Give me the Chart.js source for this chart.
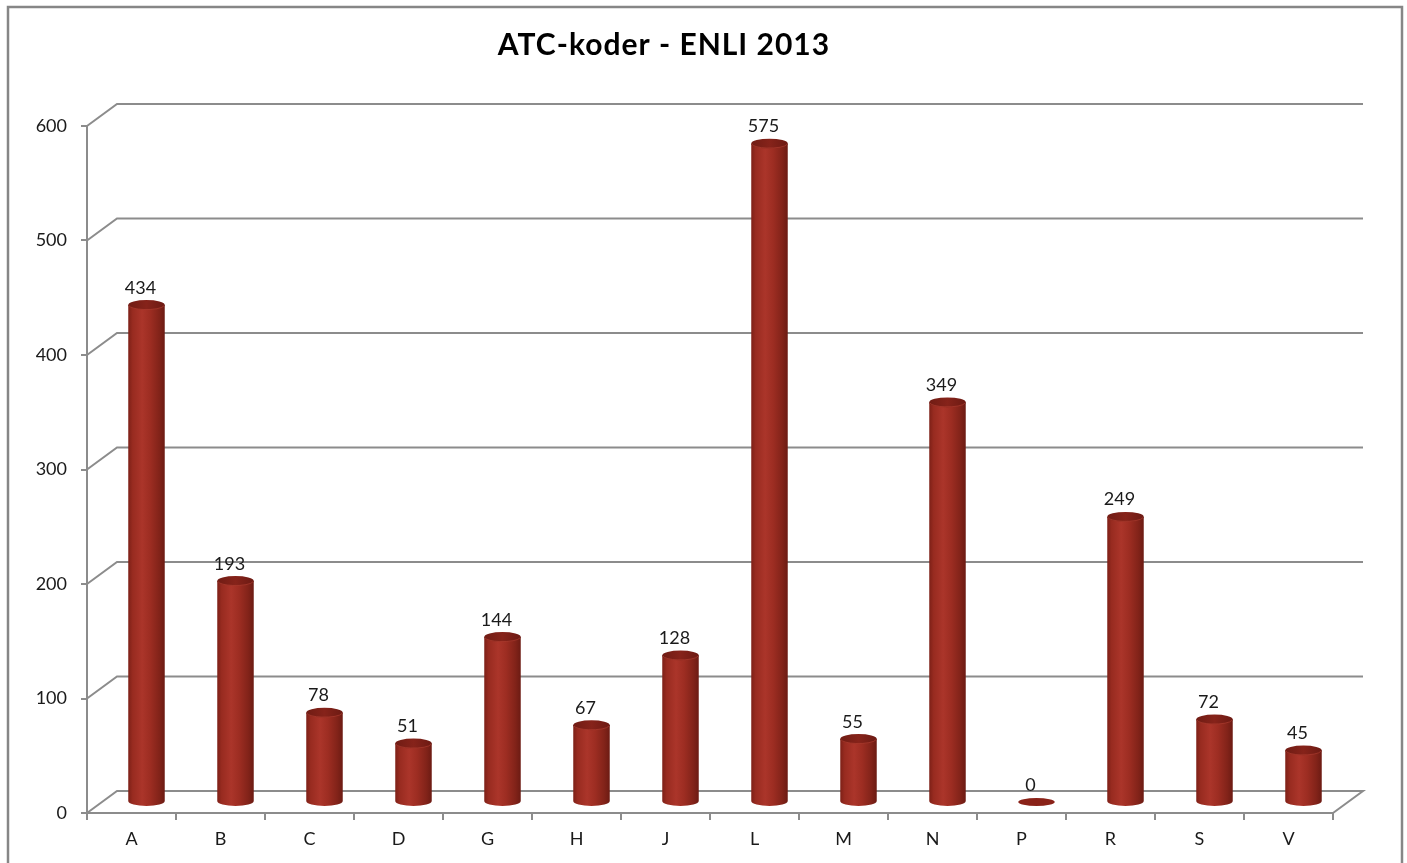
<!DOCTYPE html>
<html>
<head>
<meta charset="utf-8">
<script src="https://cdn.jsdelivr.net/npm/chart.js@4/dist/chart.umd.min.js"></script>
<style>
  html, body { margin: 0; padding: 0; background: #ffffff; }
  #wrap { width: 1407px; height: 863px; }
</style>
</head>
<body>
<div id="wrap"><canvas id="chart" width="1407" height="863"></canvas></div>
<script>
// ATC codes, number of entries per main group
const categories = ['A', 'B', 'C', 'D', 'G', 'H', 'J', 'L', 'M', 'N', 'P', 'R', 'S', 'V'];
const counts = [434, 193, 78, 51, 144, 67, 128, 575, 55, 349, 0, 249, 72, 45];
const axisMin = 0;
const axisMax = 600;
const axisStep = 100;
const titleText = 'ATC-koder - ENLI 2013';

// 3D look: the back wall sits behind the front plane, cylinders halfway in
const DEPTH_X = 30, DEPTH_Y = -22;
const BAR_DX = 15, BAR_DY = -11;
const CAP_RY = 5;
const FRAME = '#8c8c8c';
const TEXT = '#1a1a1a';
const FONT = 'Lato, Carlito, "Open Sans", sans-serif';

// outer frame of the chart object and the heading
const outerFrame = {
  id: 'outerFrame',
  beforeDraw(chart) {
    const c = chart.ctx;
    c.save();
    c.fillStyle = '#ffffff';
    c.fillRect(0, 0, chart.width, chart.height);
    c.strokeStyle = '#868686';
    c.lineWidth = 2.5;
    c.strokeRect(8, 7, 1394, 900);
    c.fillStyle = '#000000';
    c.font = 'bold 30px ' + FONT;
    if ('letterSpacing' in c) c.letterSpacing = '1px';
    c.textAlign = 'center';
    c.textBaseline = 'alphabetic';
    c.fillText(titleText, 664, 55);
    c.restore();
  }
};

// back wall grid lines, the side diagonals and the floor
const wall3d = {
  id: 'wall3d',
  beforeDatasetsDraw(chart) {
    const c = chart.ctx;
    const xs = chart.scales.x, ys = chart.scales.y;
    const left = xs.left, right = xs.right;
    c.save();
    c.strokeStyle = FRAME;
    c.lineWidth = 2;
    c.lineCap = 'butt';
    for (let v = axisMin; v <= axisMax; v += axisStep) {
      const y = ys.getPixelForValue(v);
      c.beginPath();
      c.moveTo(left, y);
      c.lineTo(left + DEPTH_X, y + DEPTH_Y);
      c.lineTo(right + DEPTH_X, y + DEPTH_Y);
      if (v === axisMin) c.lineTo(right, y);
      c.stroke();
    }
    c.restore();
  }
};

// cylinders drawn on the bar elements' positions
const cylinders = {
  id: 'cylinders',
  afterDatasetsDraw(chart) {
    const c = chart.ctx;
    const meta = chart.getDatasetMeta(0);
    c.save();
    c.translate(BAR_DX, BAR_DY);
    meta.data.forEach((bar, i) => {
      const x = bar.x, r = bar.width / 2;
      const yTop = bar.y, yBase = bar.base;
      if (counts[i] > 0) {
        const g = c.createLinearGradient(x - r, 0, x + r, 0);
        g.addColorStop(0, '#7d2017');
        g.addColorStop(0.12, '#982b20');
        g.addColorStop(0.38, '#ab352a');
        g.addColorStop(0.6, '#9d2d22');
        g.addColorStop(0.85, '#822319');
        g.addColorStop(1, '#6c1b13');
        c.beginPath();
        c.moveTo(x - r, yTop);
        c.lineTo(x - r, yBase);
        c.ellipse(x, yBase, r, CAP_RY, 0, Math.PI, 0, true);
        c.lineTo(x + r, yTop);
        c.closePath();
        c.fillStyle = g;
        c.fill();
        // top cap
        const cg = c.createLinearGradient(x - r, 0, x + r, 0);
        cg.addColorStop(0, '#701c14');
        cg.addColorStop(0.5, '#86231a');
        cg.addColorStop(1, '#6c1a13');
        c.beginPath();
        c.ellipse(x, yTop, r, CAP_RY, 0, 0, Math.PI * 2);
        c.fillStyle = cg;
        c.fill();
        c.beginPath();
        c.ellipse(x, yTop, r - 0.5, CAP_RY - 0.5, 0, 0.15, Math.PI - 0.15);
        c.strokeStyle = 'rgba(190,70,55,0.55)';
        c.lineWidth = 1;
        c.stroke();
      } else {
        c.beginPath();
        c.ellipse(x, yBase, r, CAP_RY - 1, 0, 0, Math.PI * 2);
        c.fillStyle = '#8a2218';
        c.fill();
      }
      // value label
      c.fillStyle = TEXT;
      c.font = '18px ' + FONT;
      c.textAlign = 'center';
      c.textBaseline = 'alphabetic';
      c.fillText(String(counts[i]), x - 6, yTop - CAP_RY - 6.5);
    });
    c.restore();
  }
};

new Chart(document.getElementById('chart'), {
  type: 'bar',
  data: {
    labels: categories,
    datasets: [{
      data: counts,
      backgroundColor: 'rgba(0,0,0,0)',
      borderWidth: 0,
      barPercentage: 0.41,
      categoryPercentage: 1,
      clip: false
    }]
  },
  options: {
    responsive: false,
    animation: false,
    events: [],
    layout: { padding: { left: 0, right: 74, top: 126, bottom: 0 } },
    plugins: {
      legend: { display: false },
      tooltip: { enabled: false },
      title: { display: false }
    },
    scales: {
      x: {
        grid: { drawOnChartArea: false, drawTicks: true, tickLength: 7, color: FRAME, lineWidth: 2, offset: true },
        border: { display: true, color: FRAME, width: 2 },
        ticks: { color: TEXT, font: { family: FONT, size: 18 }, padding: 8, maxRotation: 0 },
        afterFit(scale) { scale.height = 50; }
      },
      y: {
        min: axisMin,
        max: axisMax,
        grid: { drawOnChartArea: false, drawTicks: true, tickLength: 6, color: FRAME, lineWidth: 2 },
        border: { display: true, color: FRAME, width: 2 },
        ticks: { stepSize: axisStep, color: TEXT, font: { family: FONT, size: 18 }, padding: 14 },
        afterFit(scale) { scale.width = 87; }
      }
    }
  },
  plugins: [outerFrame, wall3d, cylinders]
});
</script>
</body>
</html>
